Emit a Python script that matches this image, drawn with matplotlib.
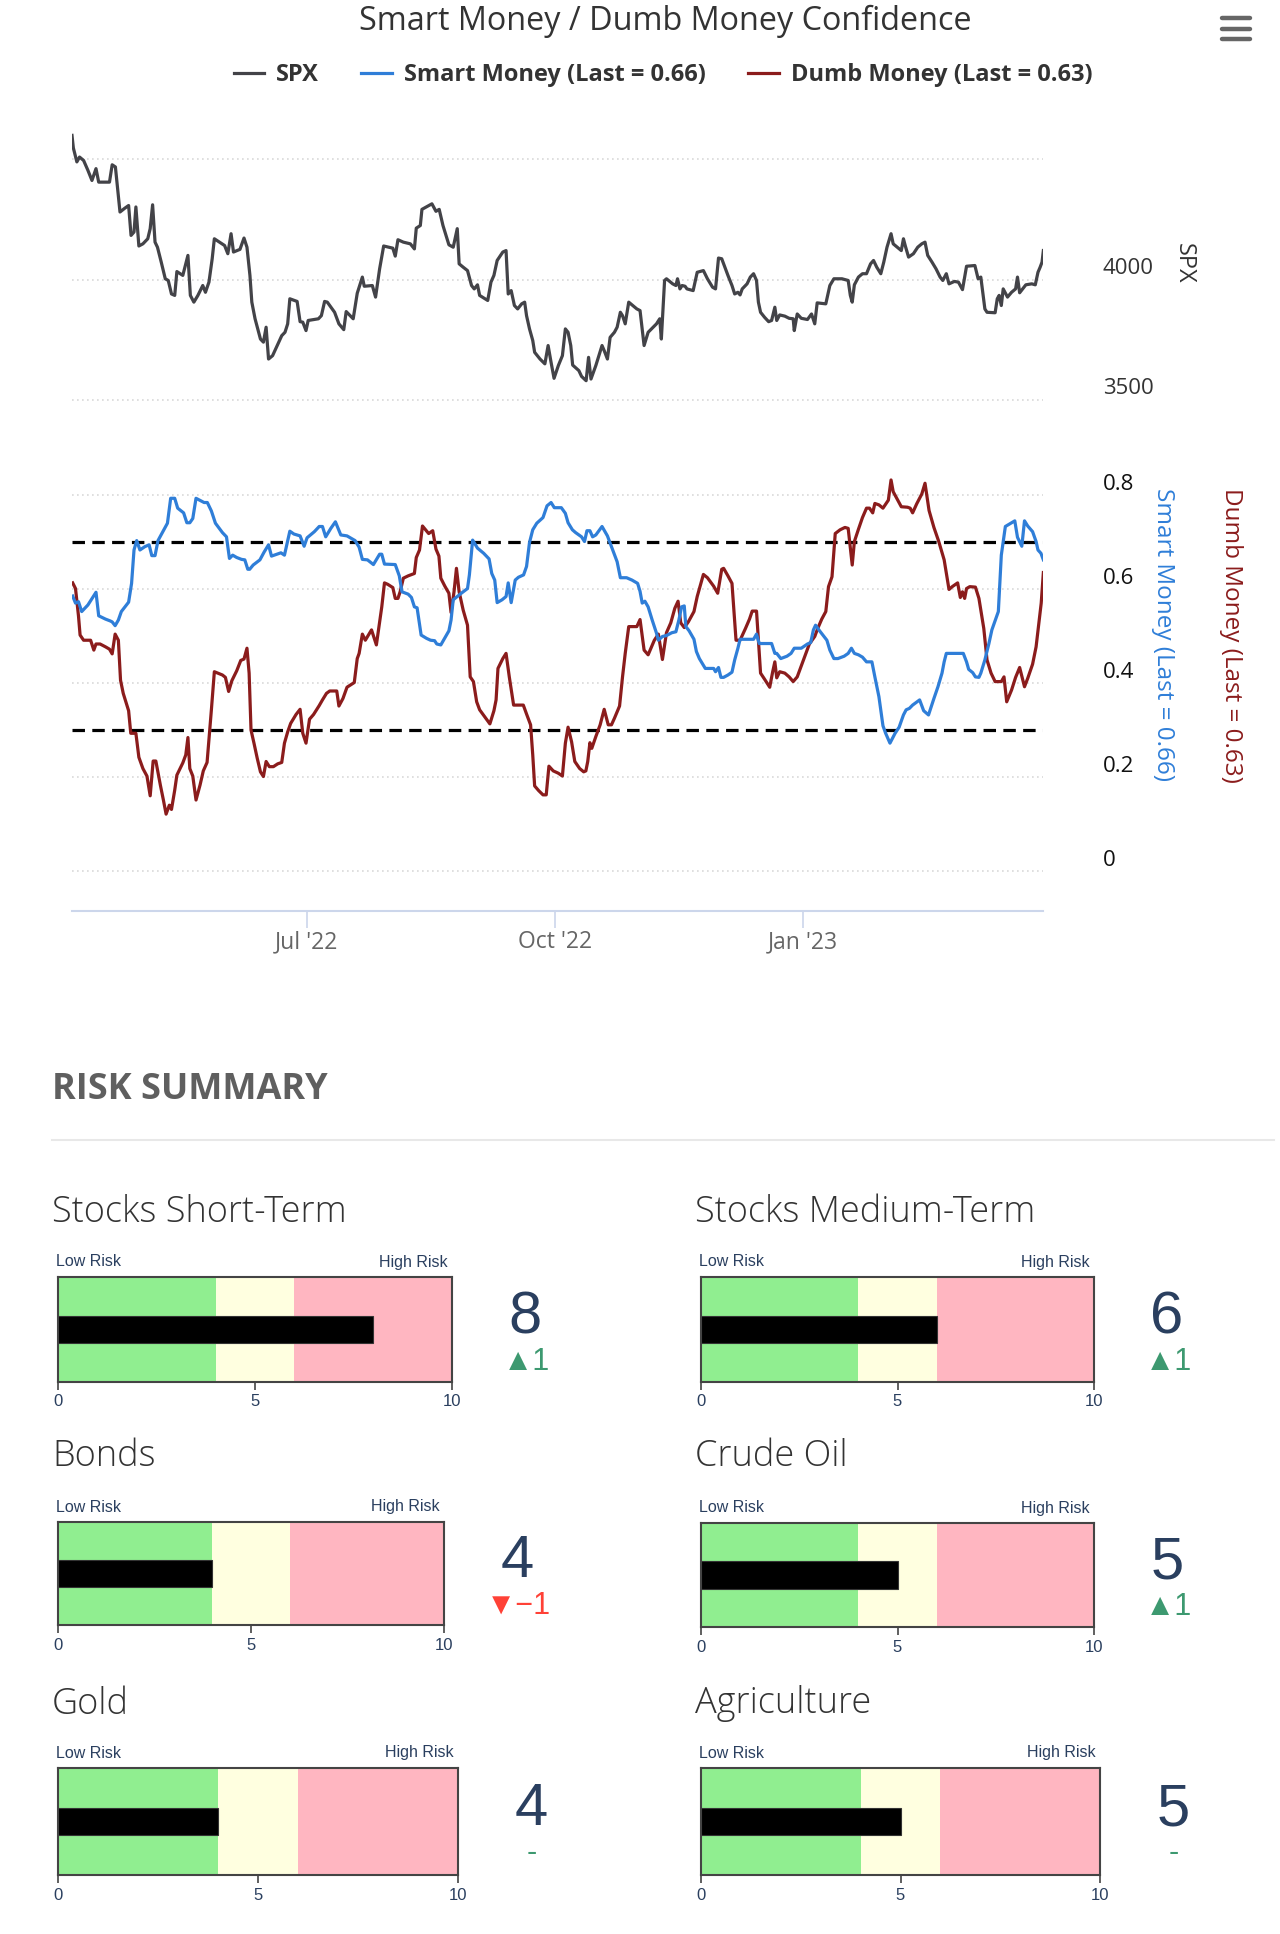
import numpy as np
import matplotlib
matplotlib.use('Agg')
import matplotlib.pyplot as plt
import matplotlib.dates as mdates
from matplotlib.lines import Line2D
from matplotlib.transforms import ScaledTranslation

plt.rcParams['font.family'] = ['Open Sans', 'DejaVu Sans']

# ---- data (days counted from 2022-04-05) ----
start_date = '2022-04-05'

spx_days = [0, 0.5, 1.8, 2.8, 4.3, 5.9, 7.4, 8.9, 9.9, 13.9, 14.9, 16.1, 17.8, 19.6, 21.0, 21.9, 23.0, 23.7,
            24.8, 26.3, 28.1, 29.0, 29.9, 30.8, 31.7, 33.1, 34.6, 35.7, 36.9, 38.1, 38.9, 41.1, 43.0, 43.9,
            45.2, 46.7, 48.5, 49.5, 50.8, 52.0, 52.8, 56.6, 57.8, 59.0, 59.9, 62.3, 63.8, 64.9, 66.0, 66.7,
            67.9, 69.9, 71.0, 72.0, 72.9, 74.4, 77.8, 79.0, 80.0, 80.8, 83.5, 84.6, 85.6, 86.8, 87.6, 91.4,
            92.5, 93.7, 94.7, 97.4, 99.0, 100.8, 101.7, 104.3, 105.8, 107.7, 108.4, 111.4, 112.6, 114.1,
            115.6, 119.0, 119.9, 120.9, 122.9, 125.5, 127.0, 127.7, 129.2, 129.8, 133.5, 135.0, 136.2,
            137.6, 139.8, 141.4, 142.9, 143.6, 145.1, 146.7, 148.2, 149.2, 150.4, 151.2, 154.2, 155.4,
            156.5, 157.7, 159.8, 161.0, 161.8, 162.9, 164.1, 165.3, 166.8, 167.9, 168.6, 169.7, 170.9,
            171.6, 173.6, 175.4, 176.6, 177.7, 178.8, 180.4, 181.9, 183.0, 184.0, 185.0, 185.7, 188.0,
            189.0, 190.7, 191.6, 192.5, 194.3, 196.6, 197.4, 198.6, 199.6, 201.2, 202.2, 203.4, 204.2,
            205.2, 206.5, 209.5, 210.7, 212.2, 213.7, 216.8, 218.0, 218.6, 219.8, 220.5, 222.8, 224.0,
            224.6, 225.5, 226.3, 227.4, 228.1, 230.4, 231.9, 234.2, 235.7, 237.6, 238.7, 239.8, 241.0,
            243.3, 244.8, 245.8, 247.0, 247.8, 248.6, 250.4, 251.6, 252.8, 253.9, 254.6, 255.4, 256.9,
            258.4, 259.5, 260.7, 261.4, 262.5, 264.4, 266.0, 267.5, 267.9, 269.0, 270.5, 272.8, 274.3,
            275.5, 276.4, 279.6, 281.1, 282.6, 285.6, 287.9, 288.7, 289.4, 290.2, 291.7, 293.2, 294.7,
            296.2, 297.3, 298.5, 300.0, 301.1, 302.3, 303.8, 304.6, 307.6, 308.4, 309.1, 310.3, 312.1,
            313.7, 315.2, 316.4, 317.4, 319.0, 320.5, 322.0, 323.0, 324.3, 325.3, 327.3, 328.8, 330.3,
            331.8, 334.9, 336.1, 337.1, 338.6, 339.4, 342.4, 343.2, 343.9, 344.7, 345.4, 347.0, 348.5,
            350.0, 350.7, 351.5, 353.8, 356.0, 357.3, 358.3, 359.1, 359.8, 360.3]
spx_vals = [4598, 4546, 4488, 4508, 4494, 4453, 4411, 4460, 4404, 4404, 4476, 4467, 4280, 4296, 4307, 4183,
            4197, 4301, 4139, 4148, 4169, 4211, 4310, 4155, 4134, 4072, 4003, 3996, 3940, 3934, 4033, 4017,
            4100, 3934, 3906, 3934, 3975, 3947, 3989, 4086, 4169, 4141, 4107, 4190, 4114, 4125, 4172, 4134,
            4017, 3906, 3837, 3753, 3740, 3802, 3670, 3684, 3767, 3781, 3816, 3920, 3909, 3825, 3823, 3788,
            3830, 3837, 3850, 3909, 3906, 3864, 3816, 3792, 3867, 3837, 3943, 4010, 3972, 3975, 3927, 4044,
            4139, 4130, 4097, 4165, 4155, 4148, 4127, 4213, 4224, 4291, 4314, 4283, 4291, 4224, 4144, 4134,
            4211, 4065, 4051, 4037, 3975, 3961, 3978, 3934, 3913, 3989, 4017, 4079, 4114, 4120, 3940, 3954,
            3892, 3878, 3899, 3906, 3850, 3795, 3747, 3698, 3670, 3650, 3726, 3656, 3590, 3643, 3684, 3795,
            3781, 3726, 3645, 3622, 3598, 3580, 3677, 3587, 3643, 3726, 3705, 3670, 3760, 3781, 3802, 3864,
            3850, 3816, 3906, 3878, 3871, 3726, 3781, 3816, 3837, 3753, 3996, 4003, 3982, 3975, 4003, 3961,
            3975, 3972, 3961, 3954, 4030, 4037, 4003, 3968, 3961, 4089, 4086, 4017, 3975, 3940, 3947, 3936,
            3961, 3982, 4010, 4024, 3996, 3906, 3864, 3843, 3825, 3830, 3885, 3830, 3853, 3848, 3839, 3837,
            3788, 3857, 3839, 3834, 3857, 3816, 3903, 3899, 3975, 4003, 4003, 3996, 3934, 3906, 3978, 4010,
            4024, 4024, 4065, 4079, 4051, 4024, 4072, 4134, 4190, 4148, 4120, 4169, 4139, 4093, 4107, 4134,
            4148, 4155, 4100, 4072, 4044, 4010, 3996, 4024, 3982, 3992, 3989, 3958, 4055, 4058, 4003, 4010,
            3878, 3864, 3862, 3920, 3934, 3892, 3961, 3927, 3947, 3961, 4010, 3945, 3978, 3982, 3978, 4030,
            4051, 4072, 4120]

smart_days = [0.25, 1.3, 2.4, 3.6, 5.9, 8.9, 9.9, 12.4, 14.2, 14.9, 16.0, 17.2, 18.3, 21.0, 22.1, 23.0, 24.0,
              25.2, 27.0, 28.6, 29.6, 30.8, 31.9, 35.4, 36.6, 38.1, 39.2, 41.4, 42.6, 43.7, 44.8, 46.0, 49.0,
              50.2, 51.7, 53.2, 55.8, 57.3, 58.4, 59.6, 61.1, 62.9, 64.1, 65.2, 65.9, 67.2, 69.7, 71.3, 72.9,
              74.0, 77.5, 78.8, 80.8, 82.3, 84.6, 86.1, 87.2, 89.9, 91.7, 92.9, 94.1, 96.0, 97.7, 99.7, 102.0,
              105.0, 106.5, 107.7, 109.6, 111.8, 114.1, 114.9, 115.9, 119.9, 121.4, 122.4, 124.7, 125.9,
              127.0, 128.0, 129.5, 131.5, 133.0, 134.5, 135.3, 136.8, 138.3, 139.8, 140.6, 141.4, 142.9,
              144.4, 146.7, 147.4, 148.6, 150.4, 152.7, 154.7, 155.7, 156.8, 157.7, 159.5, 161.0, 161.8,
              162.9, 164.4, 165.6, 167.5, 168.6, 169.7, 170.9, 172.4, 174.7, 176.2, 177.7, 178.9, 181.5,
              183.0, 184.0, 185.6, 186.8, 189.0, 190.1, 191.0, 192.1, 193.1, 194.3, 196.6, 198.6, 200.1,
              202.2, 203.4, 205.7, 207.7, 209.8, 210.7, 211.5, 212.5, 213.7, 215.2, 216.8, 217.5, 219.0,
              220.5, 222.5, 224.0, 225.1, 226.1, 227.1, 227.7, 228.9, 230.7, 231.6, 232.7, 234.9, 238.0,
              238.7, 239.8, 240.7, 241.7, 243.3, 244.8, 245.8, 247.0, 247.8, 252.8, 253.9, 254.9, 259.5,
              260.7, 261.4, 262.9, 265.2, 266.7, 267.9, 270.5, 272.8, 274.0, 275.0, 275.8, 277.3, 278.5,
              280.0, 281.1, 282.6, 284.1, 286.4, 287.9, 289.1, 290.2, 291.7, 293.2, 294.7, 296.7, 297.8,
              299.3, 300.8, 301.8, 303.4, 305.3, 306.8, 308.4, 309.4, 310.6, 311.8, 314.4, 315.9, 317.7,
              319.7, 321.2, 322.7, 323.5, 324.3, 330.6, 331.8, 332.6, 334.1, 335.1, 336.4, 337.1, 338.6,
              340.1, 341.2, 343.6, 344.7, 346.2, 349.7, 350.7, 352.3, 353.3, 354.5, 356.3, 357.6, 358.3,
              359.4, 360.3]
smart_vals = [0.585, 0.570, 0.573, 0.552, 0.566, 0.593, 0.543, 0.536, 0.532, 0.530, 0.522, 0.534, 0.552, 0.572,
              0.612, 0.683, 0.703, 0.683, 0.690, 0.694, 0.671, 0.671, 0.703, 0.740, 0.793, 0.793, 0.772, 0.762,
              0.741, 0.741, 0.750, 0.793, 0.784, 0.784, 0.766, 0.740, 0.720, 0.711, 0.665, 0.672, 0.667, 0.663,
              0.662, 0.642, 0.642, 0.651, 0.662, 0.679, 0.694, 0.670, 0.677, 0.672, 0.723, 0.717, 0.713, 0.691,
              0.709, 0.722, 0.733, 0.733, 0.711, 0.729, 0.743, 0.715, 0.713, 0.703, 0.689, 0.663, 0.662, 0.652,
              0.674, 0.674, 0.653, 0.652, 0.628, 0.594, 0.589, 0.582, 0.562, 0.560, 0.502, 0.495, 0.491, 0.490,
              0.483, 0.481, 0.496, 0.511, 0.534, 0.577, 0.584, 0.591, 0.601, 0.630, 0.704, 0.687, 0.676, 0.664,
              0.633, 0.619, 0.571, 0.577, 0.584, 0.613, 0.571, 0.619, 0.625, 0.630, 0.648, 0.699, 0.726, 0.740,
              0.752, 0.777, 0.784, 0.773, 0.773, 0.761, 0.741, 0.726, 0.720, 0.711, 0.701, 0.724, 0.724, 0.711,
              0.715, 0.733, 0.713, 0.690, 0.658, 0.624, 0.624, 0.619, 0.612, 0.595, 0.570, 0.574, 0.562, 0.534,
              0.506, 0.491, 0.499, 0.501, 0.507, 0.509, 0.534, 0.562, 0.564, 0.520, 0.511, 0.493, 0.467, 0.452,
              0.431, 0.431, 0.424, 0.433, 0.412, 0.412, 0.417, 0.423, 0.449, 0.474, 0.493, 0.493, 0.504, 0.484,
              0.484, 0.463, 0.463, 0.452, 0.457, 0.463, 0.474, 0.474, 0.483, 0.486, 0.513, 0.523, 0.511, 0.502,
              0.491, 0.470, 0.452, 0.452, 0.457, 0.463, 0.474, 0.463, 0.460, 0.455, 0.445, 0.445, 0.413, 0.371,
              0.309, 0.293, 0.272, 0.293, 0.306, 0.332, 0.343, 0.346, 0.353, 0.364, 0.341, 0.332, 0.367, 0.392,
              0.421, 0.445, 0.463, 0.463, 0.445, 0.429, 0.422, 0.413, 0.412, 0.421, 0.449, 0.484, 0.513, 0.552,
              0.672, 0.733, 0.745, 0.710, 0.691, 0.745, 0.734, 0.722, 0.701, 0.683, 0.676, 0.662]

dumb_days = [0.25, 1.3, 2.4, 3.0, 4.3, 6.9, 8.1, 8.9, 10.4, 12.4, 13.9, 14.9, 16.0, 17.2, 18.0, 19.0, 21.0,
             21.8, 23.7, 24.8, 26.3, 27.8, 29.0, 30.1, 31.1, 32.8, 33.9, 34.9, 36.1, 36.9, 38.1, 38.9, 41.1,
             42.2, 43.0, 43.7, 44.8, 46.0, 47.5, 48.7, 50.1, 51.7, 52.8, 55.8, 56.9, 58.1, 59.3, 61.1, 62.6,
             63.8, 64.9, 65.7, 66.4, 67.5, 68.7, 69.9, 71.0, 72.0, 73.2, 74.7, 76.3, 77.8, 78.8, 80.0, 81.1,
             83.1, 84.6, 85.6, 86.8, 88.1, 89.6, 91.7, 92.9, 94.4, 95.6, 98.2, 99.0, 100.5, 102.0, 104.7,
             105.8, 106.5, 107.7, 108.8, 111.1, 112.9, 114.1, 114.9, 115.9, 117.1, 119.0, 119.9, 120.9,
             121.7, 122.9, 124.7, 127.0, 127.7, 128.9, 130.0, 132.3, 133.8, 135.0, 136.1, 136.8, 138.3,
             139.8, 140.6, 141.7, 142.6, 143.6, 145.1, 146.7, 147.7, 148.9, 150.1, 151.2, 153.5, 155.0,
             156.5, 157.3, 158.0, 159.8, 161.0, 162.2, 163.8, 167.4, 168.6, 170.1, 170.9, 171.6, 173.1,
             174.7, 175.9, 176.9, 178.5, 180.4, 181.9, 183.0, 184.0, 185.3, 186.5, 188.3, 189.8, 190.6,
             191.3, 192.1, 192.8, 194.3, 195.9, 197.4, 198.9, 200.1, 201.2, 203.1, 204.2, 205.2, 206.5,
             207.7, 209.5, 210.7, 212.2, 213.7, 216.0, 217.5, 219.0, 220.5, 222.1, 223.6, 224.8, 225.8,
             227.1, 228.6, 230.7, 231.9, 234.2, 235.7, 238.0, 239.5, 241.0, 241.7, 243.3, 244.8, 246.3,
             247.8, 249.8, 251.3, 252.3, 253.9, 255.4, 256.9, 258.8, 259.9, 260.7, 261.4, 262.5, 264.4,
             266.0, 267.5, 269.0, 271.3, 273.5, 275.5, 276.6, 278.1, 279.6, 280.6, 281.9, 283.1, 284.9,
             286.7, 287.9, 289.4, 290.2, 291.7, 293.2, 294.7, 295.8, 297.0, 297.8, 299.3, 300.8, 302.8,
             303.8, 304.6, 307.6, 309.9, 310.9, 311.8, 313.3, 315.2, 316.4, 317.9, 319.7, 321.5, 323.5,
             325.3, 326.5, 328.5, 329.5, 330.3, 331.1, 331.8, 333.0, 335.1, 336.4, 338.2, 339.4, 340.9,
             342.4, 344.7, 345.7, 346.7, 348.5, 350.0, 351.5, 353.3, 354.5, 356.3, 357.6, 358.6, 359.5,
             360.3]
dumb_vals = [0.613, 0.601, 0.543, 0.502, 0.491, 0.491, 0.470, 0.483, 0.483, 0.477, 0.472, 0.462, 0.504, 0.491,
             0.406, 0.378, 0.341, 0.293, 0.293, 0.242, 0.218, 0.202, 0.160, 0.234, 0.234, 0.182, 0.151, 0.121,
             0.140, 0.131, 0.172, 0.204, 0.230, 0.247, 0.284, 0.218, 0.202, 0.151, 0.183, 0.213, 0.231, 0.343,
             0.424, 0.417, 0.412, 0.382, 0.405, 0.426, 0.448, 0.451, 0.474, 0.421, 0.300, 0.272, 0.240, 0.211,
             0.201, 0.233, 0.222, 0.222, 0.228, 0.231, 0.272, 0.296, 0.314, 0.333, 0.344, 0.293, 0.272, 0.323,
             0.333, 0.352, 0.364, 0.378, 0.383, 0.383, 0.351, 0.367, 0.391, 0.401, 0.452, 0.463, 0.504, 0.491,
             0.513, 0.481, 0.530, 0.562, 0.613, 0.610, 0.603, 0.580, 0.580, 0.594, 0.623, 0.628, 0.633, 0.667,
             0.683, 0.734, 0.718, 0.724, 0.685, 0.670, 0.623, 0.606, 0.591, 0.550, 0.594, 0.644, 0.594, 0.555,
             0.523, 0.413, 0.403, 0.360, 0.343, 0.325, 0.313, 0.341, 0.364, 0.431, 0.452, 0.463, 0.413, 0.353,
             0.353, 0.334, 0.311, 0.247, 0.181, 0.171, 0.162, 0.162, 0.223, 0.213, 0.208, 0.202, 0.272, 0.306,
             0.275, 0.233, 0.218, 0.211, 0.213, 0.233, 0.273, 0.261, 0.286, 0.311, 0.344, 0.311, 0.311, 0.325,
             0.351, 0.413, 0.463, 0.520, 0.520, 0.520, 0.535, 0.470, 0.460, 0.491, 0.504, 0.450, 0.507, 0.528,
             0.559, 0.574, 0.528, 0.518, 0.530, 0.552, 0.584, 0.631, 0.624, 0.606, 0.591, 0.642, 0.644, 0.628,
             0.612, 0.491, 0.491, 0.516, 0.536, 0.553, 0.553, 0.421, 0.408, 0.391, 0.424, 0.445, 0.411, 0.424,
             0.421, 0.413, 0.403, 0.413, 0.449, 0.483, 0.499, 0.516, 0.536, 0.552, 0.605, 0.626, 0.718, 0.726,
             0.731, 0.729, 0.651, 0.701, 0.727, 0.752, 0.772, 0.772, 0.762, 0.782, 0.779, 0.772, 0.789, 0.832,
             0.807, 0.775, 0.774, 0.772, 0.762, 0.781, 0.802, 0.825, 0.767, 0.731, 0.701, 0.662, 0.599, 0.605,
             0.613, 0.582, 0.594, 0.580, 0.601, 0.605, 0.604, 0.580, 0.516, 0.449, 0.421, 0.403, 0.403, 0.413,
             0.360, 0.385, 0.412, 0.433, 0.392, 0.410, 0.440, 0.477, 0.527, 0.570, 0.635]

month_ticks = ['2022-07-01', '2022-10-01', '2023-01-01']
month_labels = ["Jul '22", "Oct '22", "Jan '23"]

risk_names = ['Stocks Short-Term', 'Stocks Medium-Term', 'Bonds', 'Crude Oil', 'Gold', 'Agriculture']
risk_scores = [8, 6, 4, 5, 4, 5]
risk_changes = [1, 1, -1, 1, 0, 0]

# ---- styling ----
W, H = 1280, 1934
C_SPX = '#434348'
C_SMART = '#2f7ed8'
C_DUMB = '#8b1c1c'
C_NAVY = '#2a3f5f'


def fx(p):
    return p / W


def fy(p):
    return 1 - p / H


def box(l, t, r, b):
    return [fx(l), fy(b), (r - l) / W, (b - t) / H]


fig = plt.figure(figsize=(W / 100, H / 100), dpi=100)
fig.patch.set_facecolor('white')

base = mdates.datestr2num(start_date)
x_end = base + (1043 - 72) / 2.696
x_spx = base + np.array(spx_days)
x_smart = base + np.array(smart_days)
x_dumb = base + np.array(dumb_days)

grid_kw = dict(color='#d9d9d9', linestyle=(0, (1, 2)), linewidth=1.2)


def right_labels(ax, color):
    ax.yaxis.tick_right()
    ax.tick_params(axis='y', length=0, pad=43, labelsize=16, labelcolor=color)
    for lab in ax.get_yticklabels():
        lab.set_horizontalalignment('left')
        lab.set_transform(lab.get_transform() + ScaledTranslation(0, 0.135, fig.dpi_scale_trans))


# SPX panel
ax1 = fig.add_axes(box(72, 110, 1043, 440))
h_spx, = ax1.plot(x_spx, spx_vals, color=C_SPX, lw=2.3)
ax1.set_xlim(base, x_end)
ax1.set_ylim(3500 - 40 * 1000 / 241, 3500 + 290 * 1000 / 241)
ax1.set_yticks([3500, 4000, 4500])
ax1.set_yticklabels(['3500', '4000', ''])
ax1.yaxis.grid(True, **grid_kw)
ax1.set_xticks([])
for s in ax1.spines.values():
    s.set_visible(False)
right_labels(ax1, '#333333')

# Smart / Dumb panel
ax2 = fig.add_axes(box(72, 440, 1043, 911))
ax2.axhline(0.7, color='black', lw=2.3, linestyle=(0, (3.9, 2.3)), zorder=1)
ax2.axhline(0.3, color='black', lw=2.3, linestyle=(0, (3.9, 2.3)), zorder=1)
h_smart, = ax2.plot(x_smart, smart_vals, color=C_SMART, lw=2.3, zorder=3)
h_dumb, = ax2.plot(x_dumb, dumb_vals, color=C_DUMB, lw=2.3, zorder=2)
ax2.set_xlim(base, x_end)
ax2.set_ylim(-40 / 470, 0.8 + 55 / 470)
ax2.set_yticks([0, 0.2, 0.4, 0.6, 0.8])
ax2.set_yticklabels(['0', '0.2', '0.4', '0.6', '0.8'])
ax2.yaxis.grid(True, **grid_kw)
for k in ['top', 'left', 'right']:
    ax2.spines[k].set_visible(False)
ax2.spines['bottom'].set_color('#ccd6eb')
ax2.spines['bottom'].set_linewidth(1.5)
ax2.set_xticks([mdates.datestr2num(d) for d in month_ticks])
ax2.set_xticklabels(month_labels)
ax2.tick_params(axis='x', length=12, width=1.2, color='#ccd6eb', labelsize=16.5,
                labelcolor='#666666', pad=2)
right_labels(ax2, '#111111')

# titles and legend
fig.text(fx(665), fy(21), 'Smart Money / Dumb Money Confidence', ha='center', va='center',
         fontsize=23.3, color='#333333')
fig.text(fx(1184), fy(263), 'SPX', rotation=270, ha='center', va='center', fontsize=17, color='#333333')
fig.text(fx(1163), fy(635), 'Smart Money (Last = 0.66)', rotation=270, ha='center', va='center',
         fontsize=17.5, color=C_SMART)
fig.text(fx(1231), fy(635), 'Dumb Money (Last = 0.63)', rotation=270, ha='center', va='center',
         fontsize=17.5, color=C_DUMB)

fig.legend([h_spx, h_smart, h_dumb], ['SPX', 'Smart Money (Last = 0.66)', 'Dumb Money (Last = 0.63)'],
           loc='center', bbox_to_anchor=(fx(663), fy(75)), ncol=3, frameon=False,
           prop={'weight': 'bold', 'size': 17}, handlelength=1.3, handletextpad=0.5,
           columnspacing=1.8, labelcolor='#333333')

# hamburger menu
for yy in [18, 28.5, 39]:
    fig.add_artist(Line2D([fx(1222), fx(1250)], [fy(yy), fy(yy)], color='#666666', lw=3.2,
                          solid_capstyle='round'))

# ---- risk summary ----
fig.text(fx(52), fy(1090), 'RISK SUMMARY', ha='left', va='center', fontsize=26, fontweight='bold',
         color='#5f5f5f')
fig.add_artist(Line2D([fx(52), fx(1274)], [fy(1140), fy(1140)], color='#e8e8e8', lw=1.5))

# gauge boxes: left, top, right, bottom (pixels)
gauge_boxes = [(58, 1277, 452, 1382), (701, 1277, 1094, 1382),
               (58, 1522, 444, 1625), (701, 1523, 1094, 1627),
               (58, 1768, 458, 1875), (701, 1768, 1100, 1875)]
title_y = [1212, 1212, 1457, 1457, 1704, 1704]
small_font = ['Liberation Sans Narrow', 'Liberation Sans', 'DejaVu Sans']
num_font = ['Liberation Sans', 'DejaVu Sans']

for i, name in enumerate(risk_names):
    l, t, r, b = gauge_boxes[i]
    fig.text(fx(l - 6), fy(title_y[i]), name, ha='left', va='center', fontsize=26, color='#333333',
             fontweight='light')
    ax = fig.add_axes(box(l, t, r, b))
    ax.axvspan(0, 4, color='#90ee90', lw=0)
    ax.axvspan(4, 6, color='#ffffe0', lw=0)
    ax.axvspan(6, 10, color='#ffb6c1', lw=0)
    ax.barh(0.5, risk_scores[i], height=0.26, color='black', edgecolor='#333333', lw=0.8)
    ax.set_xlim(0, 10)
    ax.set_ylim(0, 1)
    ax.set_yticks([])
    ax.set_xticks([0, 5, 10])
    ax.tick_params(axis='x', length=6, width=1.2, color='#444444', labelsize=12,
                   labelcolor=C_NAVY, pad=3)
    for lab in ax.get_xticklabels():
        lab.set_family(num_font)
    for s in ax.spines.values():
        s.set_color('#444444')
        s.set_linewidth(1.5)
    fig.text(fx(l - 2), fy(t - 15), 'Low Risk', ha='left', va='center', fontsize=11.5,
             color=C_NAVY, family=small_font)
    fig.text(fx(r - 4), fy(t - 15), 'High Risk', ha='right', va='center', fontsize=11.5,
             color=C_NAVY, family=small_font)
    cy = (t + b) / 2
    fig.text(fx(r + 73), fy(cy - 12), str(risk_scores[i]), ha='center', va='center', fontsize=43,
             color=C_NAVY, family=num_font)
    ch = risk_changes[i]
    if ch > 0:
        txt, col = '\u25B2' + str(ch), '#3d9970'
    elif ch < 0:
        txt, col = '\u25BC\u2212' + str(-ch), '#ff4136'
    else:
        txt, col = '-', '#3d9970'
    fig.text(fx(r + 74), fy(cy + 32), txt, ha='center', va='center', fontsize=22, color=col,
             family=num_font)

fig.savefig('out.png', dpi=100, facecolor='white')
